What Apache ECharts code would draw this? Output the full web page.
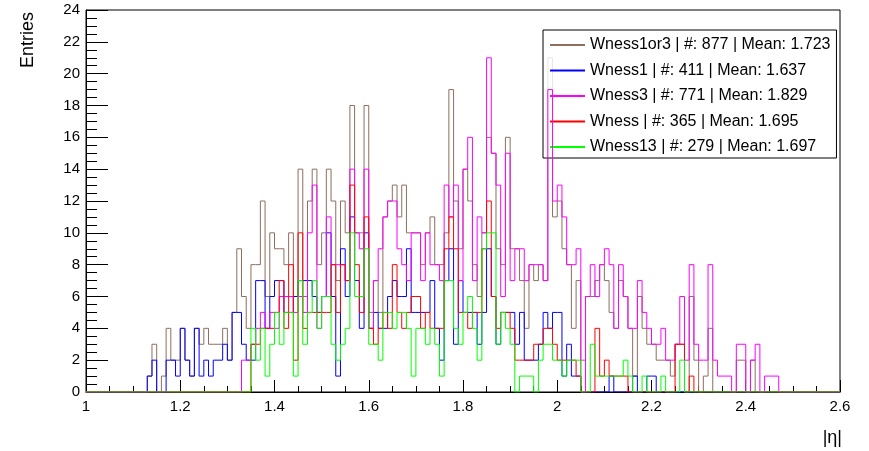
<!DOCTYPE html>
<html>
<head>
<meta charset="utf-8">
<script src="https://cdn.jsdelivr.net/npm/echarts@6/dist/echarts.min.js"></script>
<style>
  html, body { margin: 0; padding: 0; background: #ffffff; }
  #chart { width: 869px; height: 451px; }
</style>
</head>
<body>
<div id="chart"></div>
<script>
// Histogram binning: 160 bins of width 0.01 from |eta| = 1.0 to 2.6
const binLow = 1.0;
const binWidth = 0.01;

const seriesNames = ['Wness1or3', 'Wness1', 'Wness3', 'Wness', 'Wness13'];
const seriesColors = ['#8f6e5e', '#0000ff', '#ff00ff', '#ff0000', '#00ff00'];
const entryCounts = [877, 411, 771, 365, 279];
const entryMeans = ['1.723', '1.637', '1.829', '1.695', '1.697'];

// Bin contents, one value per bin, starting at the first bin (1.00-1.01)
const wness1or3 = [
  0,0,0,0,0,0,0,0,0,0, 0,0,0,1,3,0,1,4,2,2,
  4,2,1,4,3,4,3,3,3,4, 2,5,9,6,4,8,8,12,6,10,
  9,9,8,10,6,14,6,12,14,8, 10,14,12,7,12,10,18,10,10,18,
  5,7,5,11,12,13,11,13,10,10, 10,8,10,11,8,8,10,19,12,9,
  14,12,8,6,10,16,15,9,8,16, 9,9,7,4,8,7,8,7,21,11,
  12,9,8,4,7,2,6,6,7,8, 7,5,4,7,6,4,1,6,4,3,
  3,2,2,2,1,3,3,0,6,2, 0,1,4,0,0,0,0,0,2,2,
  0,2,0,0,0,0,0,0,0,0, 0,0,0,0,0,0,0,0,0,0
];
const wness1 = [
  0,0,0,0,0,0,0,0,0,0, 0,0,0,1,2,0,0,2,2,1,
  4,2,1,4,1,2,1,2,2,3, 2,5,5,3,2,2,7,7,4,6,
  7,7,5,5,6,7,7,7,6,5, 6,10,6,1,9,6,11,7,4,10,
  4,5,4,4,6,7,6,6,9,5, 5,5,5,7,4,2,7,9,3,7,
  5,5,5,3,5,9,6,3,5,5, 5,3,5,2,2,2,3,5,4,5,
  5,1,3,1,1,0,0,0,0,0, 0,1,0,0,0,0,1,0,0,1,
  1,0,0,0,0,0,0,0,0,0, 0,0,0,0,0,0,0,0,0,0,
  0,0,0,0,0,0,0,0,0,0, 0,0,0,0,0,0,0,0,0,0
];
const wness3 = [
  0,0,0,0,0,0,0,0,0,0, 0,0,0,0,0,0,0,0,0,0,
  0,0,0,0,0,0,0,0,0,0, 0,0,0,2,2,3,4,5,4,5,
  4,6,6,6,5,6,5,10,13,4, 6,11,8,8,8,7,14,10,9,14,
  4,7,9,11,12,12,9,8,7,10, 10,7,10,8,8,7,13,11,13,7,
  14,16,7,11,10,21,15,13,6,15, 7,9,9,7,8,8,8,7,19,12,
  13,11,8,8,9,0,6,8,6,8, 9,8,4,8,6,4,4,7,5,4,
  3,3,4,2,2,3,6,2,8,3, 2,2,8,2,1,1,1,0,3,3,
  0,2,3,0,1,1,1,0,0,0, 0,0,0,0,0,0,0,0,0,0
];
const wness = [
  0,0,0,0,0,0,0,0,0,0, 0,0,0,0,0,0,0,0,0,0,
  0,0,0,0,0,0,0,0,0,0, 0,0,0,0,0,3,3,4,4,4,
  5,7,4,8,2,10,4,5,5,5, 5,5,8,5,8,7,13,8,5,11,
  4,3,4,5,4,8,5,4,5,6, 6,4,5,4,4,4,9,11,9,5,
  5,4,5,5,9,12,6,4,5,5, 4,2,2,2,2,3,3,4,4,3,
  2,2,2,2,1,0,0,0,4,1, 2,1,1,1,1,0,0,0,0,0,
  0,0,0,0,0,3,3,0,1,0, 0,0,0,0,0,0,0,0,0,0,
  0,0,0,0,0,0,0,0,0,0, 0,0,0,0,0,0,0,0,0,0
];
const wness13 = [
  0,0,0,0,0,0,0,0,0,0, 0,0,0,0,0,0,0,0,0,0,
  0,0,0,0,0,0,0,0,0,0, 0,0,0,0,0,4,2,4,1,3,
  5,3,5,5,1,7,3,5,7,4, 6,6,3,2,3,4,10,6,6,9,
  3,3,2,5,5,4,5,5,4,1, 4,4,3,4,3,1,7,7,4,3,
  5,6,4,2,9,10,10,3,5,4, 3,0,1,1,1,0,2,3,3,2,
  2,1,2,2,2,0,0,3,1,1, 1,1,1,1,2,1,0,0,1,0,
  0,0,1,0,0,0,2,0,0,0, 0,0,0,0,0,0,0,0,0,0,
  0,0,0,0,0,0,0,0,0,0, 0,0,0,0,0,0,0,0,0,0
];

const seriesValues = [wness1or3, wness1, wness3, wness, wness13];

// Turn bin contents into [lowEdge, content] pairs for a step outline,
// closing the last bin at its upper edge.
function histogramOutline(values) {
  const pts = values.map((v, i) => [+(binLow + i * binWidth).toFixed(2), v]);
  pts.push([+(binLow + values.length * binWidth).toFixed(2), values[values.length - 1]]);
  return pts;
}

const fontFamily = '"Liberation Sans", Arial, Helvetica, sans-serif';

const chart = echarts.init(document.getElementById('chart'), null, { renderer: 'canvas' });

chart.setOption({
  animation: false,
  backgroundColor: '#ffffff',
  grid: {
    left: 86, right: 29, top: 10, bottom: 59,
    show: true, borderColor: '#000000', borderWidth: 1, backgroundColor: 'transparent'
  },
  xAxis: {
    type: 'value',
    min: 1, max: 2.6, interval: 0.2,
    axisLine: { show: true, onZero: false, lineStyle: { color: '#000000', width: 1 } },
    axisTick: { show: true, inside: true, length: 12, lineStyle: { color: '#000000' } },
    minorTick: { show: true, splitNumber: 4, length: 6, lineStyle: { color: '#000000' } },
    splitLine: { show: false },
    axisLabel: { color: '#000000', fontSize: 15, fontFamily: fontFamily, margin: 7 }
  },
  yAxis: {
    type: 'value',
    min: 0, max: 24, interval: 2,
    axisLine: { show: true, lineStyle: { color: '#000000', width: 1 } },
    axisTick: { show: true, inside: true, length: 22, lineStyle: { color: '#000000' } },
    minorTick: { show: true, splitNumber: 4, length: 11, lineStyle: { color: '#000000' } },
    splitLine: { show: false },
    axisLabel: { color: '#000000', fontSize: 15, fontFamily: fontFamily, margin: 6 }
  },
  legend: {
    orient: 'vertical',
    left: 543, top: 30,
    data: seriesNames,
    icon: 'rect',
    itemWidth: 35, itemHeight: 2,
    itemGap: 5.5,
    padding: [5, 6, 1, 7],
    backgroundColor: 'rgba(255,255,255,0.82)',
    borderColor: '#000000', borderWidth: 1, borderRadius: 0,
    selectedMode: false,
    textStyle: { color: '#000000', fontSize: 16, fontFamily: fontFamily, lineHeight: 20 },
    formatter: function (name) {
      const i = seriesNames.indexOf(name);
      return name + ' | #: ' + entryCounts[i] + ' | Mean: ' + entryMeans[i];
    }
  },
  graphic: [
    {
      type: 'text', x: 28, y: 12, rotation: Math.PI / 2,
      style: { text: 'Entries', fill: '#000000', font: '18px ' + fontFamily, align: 'right', verticalAlign: 'middle' }
    },
    {
      type: 'text', x: 842, y: 438,
      style: { text: '|η|', fill: '#000000', font: '18px ' + fontFamily, align: 'right', verticalAlign: 'middle' }
    }
  ],
  series: seriesNames.map((name, i) => ({
    name: name,
    type: 'line',
    step: 'end',
    data: histogramOutline(seriesValues[i]),
    symbol: 'none',
    showSymbol: false,
    color: seriesColors[i],
    lineStyle: { color: seriesColors[i], width: 1 },
    z: 2 + i,
    clip: true
  }))
});
</script>
</body>
</html>
